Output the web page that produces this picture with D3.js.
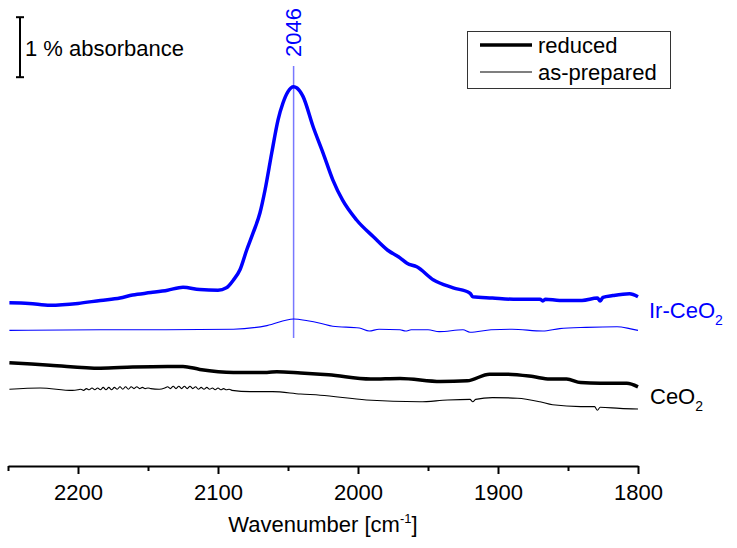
<!DOCTYPE html>
<html>
<head>
<meta charset="utf-8">
<script src="https://cdn.jsdelivr.net/npm/d3@7"></script>
<style>
  body { margin: 0; background: #fff; }
  svg { display: block; font-family: "Liberation Sans", Arial, sans-serif; }
  .axis path, .axis line { stroke: #000; stroke-width: 2; }
  .axis text { font-size: 22px; fill: #000; }
</style>
</head>
<body>
<div id="chart"></div>
<script>
// spectra: [wavenumber cm-1, absorbance %] (offset as plotted)
var irReduced = [
  [2249, 2.72], [2235, 2.71], [2220, 2.68], [2200, 2.71], [2184, 2.76], [2170, 2.80],
  [2161, 2.85], [2148, 2.89], [2136, 2.93], [2125, 2.98], [2113, 2.94], [2100, 2.93],
  [2094, 2.97], [2089, 3.10], [2084.3, 3.27], [2079.5, 3.60], [2075, 3.88], [2070, 4.22],
  [2066.4, 4.60], [2061.6, 5.22], [2057.1, 5.77], [2053.6, 6.05], [2050, 6.24], [2046, 6.32],
  [2043.6, 6.30], [2039.3, 6.16], [2032, 5.65], [2025, 5.22], [2018, 4.77], [2011, 4.43],
  [2001, 4.10], [1989, 3.82], [1979, 3.60], [1970, 3.47], [1965, 3.38], [1958, 3.32],
  [1946, 3.10], [1932, 2.97], [1920, 2.88], [1918, 2.82], [1904, 2.80], [1889, 2.78],
  [1870, 2.78], [1868, 2.75], [1866, 2.78], [1856, 2.76], [1840, 2.76], [1829, 2.80],
  [1827, 2.75], [1825, 2.81], [1818, 2.84], [1806, 2.87], [1800, 2.82]
];
var irPrepared = [
  [2249, 2.26], [2184, 2.27], [2150, 2.27], [2089, 2.28], [2065, 2.34], [2046, 2.45],
  [2036, 2.42], [2027, 2.38], [2018, 2.33], [1999, 2.30], [1992, 2.25], [1985, 2.28],
  [1970, 2.27], [1966, 2.25], [1962, 2.27], [1950, 2.27], [1942, 2.24], [1925, 2.27],
  [1920, 2.23], [1905, 2.27], [1890, 2.28], [1868, 2.25], [1856, 2.29], [1837, 2.31],
  [1815, 2.32], [1806, 2.29], [1800, 2.26]
];
var ceReduced = [
  [2249, 1.72], [2220, 1.68], [2184, 1.63], [2161, 1.65], [2136, 1.66], [2125, 1.66],
  [2113, 1.61], [2089, 1.56], [2065, 1.56], [2058, 1.57], [2041, 1.55], [2027, 1.53],
  [2021, 1.52], [1991, 1.45], [1970, 1.46], [1941, 1.41], [1922, 1.42], [1906, 1.53],
  [1894, 1.53], [1875, 1.49], [1863, 1.45], [1851, 1.45], [1841, 1.39], [1827, 1.38],
  [1808, 1.38], [1800, 1.32]
];
var cePrepared = [
  [2249, 1.28], [2227, 1.30], [2204, 1.26],
  [2200, 1.27], [2198, 1.28], [2196, 1.26], [2194, 1.29], [2192, 1.27], [2190, 1.30],
  [2188, 1.27], [2186, 1.30], [2184, 1.27], [2182, 1.31], [2180, 1.27], [2178, 1.31],
  [2176, 1.27], [2174, 1.31], [2172, 1.28], [2170, 1.32], [2168, 1.28], [2166, 1.32],
  [2164, 1.28], [2162, 1.32], [2160, 1.29], [2158, 1.32], [2156, 1.29], [2154, 1.31],
  [2152, 1.29], [2150, 1.30], [2148, 1.29], [2142, 1.28],
  [2138, 1.30], [2136, 1.32], [2134, 1.29], [2132, 1.33], [2130, 1.29], [2128, 1.33],
  [2126, 1.29], [2124, 1.33], [2122, 1.29], [2120, 1.33], [2118, 1.29], [2116, 1.32],
  [2114, 1.28], [2112, 1.31], [2110, 1.28], [2108, 1.31], [2106, 1.28], [2104, 1.30],
  [2102, 1.27], [2100, 1.30], [2098, 1.27], [2096, 1.29], [2094, 1.27], [2092, 1.28],
  [2090, 1.26], [2077, 1.24], [2061, 1.24], [2041, 1.20], [2027, 1.18],
  [1994, 1.10], [1956, 1.07], [1936, 1.10], [1920, 1.11], [1918, 1.07], [1916, 1.11],
  [1904, 1.14], [1886, 1.13], [1870, 1.07], [1861, 1.02], [1841, 0.99], [1831, 0.99],
  [1829, 0.93], [1827, 0.98], [1813, 0.96], [1800, 0.95]
];

var majorTicks = [2200, 2100, 2000, 1900, 1800],
    minorTicks = [2250, 2150, 2050, 1950, 1850],
    peakWn = 2046;

var width = 737,
    height = 548;

var x = d3.scaleLinear()
    .domain([2250, 1800])
    .range([8, 638]);

var y = d3.scaleLinear()
    .domain([0, 7.5])
    .range([466, 16]);

var svg = d3.select("#chart").append("svg")
    .attr("width", width)
    .attr("height", height);

var line = d3.line()
    .curve(d3.curveMonotoneX)
    .x(function(d) { return x(d[0]); })
    .y(function(d) { return y(d[1]); });

// peak marker
svg.append("line")
    .attr("x1", x(peakWn)).attr("x2", x(peakWn))
    .attr("y1", 66).attr("y2", 338)
    .attr("stroke", "#7878ff")
    .attr("stroke-width", 1.5);

svg.append("text")
    .attr("transform", "translate(" + (x(peakWn) + 7) + ",57) rotate(-90)")
    .attr("font-size", 22)
    .attr("fill", "#0000ff")
    .text(peakWn);

var series = [
  {data: irPrepared, color: "#0000ff", w: 1.1},
  {data: cePrepared, color: "#000", w: 1.1},
  {data: irReduced, color: "#0000ff", w: 3.5},
  {data: ceReduced, color: "#000", w: 3.5}
];

svg.selectAll(".spec")
    .data(series)
  .enter().append("path")
    .attr("class", "spec")
    .attr("fill", "none")
    .attr("stroke", function(d) { return d.color; })
    .attr("stroke-width", function(d) { return d.w; })
    .attr("stroke-linejoin", "round")
    .attr("d", function(d) { return line(d.data); });

// x axis
var xAxis = d3.axisBottom(x)
    .tickValues(majorTicks)
    .tickFormat(d3.format("d"))
    .tickSize(8)
    .tickSizeOuter(0)
    .tickPadding(10);

svg.append("g")
    .attr("class", "axis")
    .attr("transform", "translate(0," + y(0) + ")")
    .call(xAxis);

svg.append("g")
    .attr("class", "axis")
    .attr("transform", "translate(0," + y(0) + ")")
    .call(d3.axisBottom(x).tickValues(minorTicks).tickSize(5).tickSizeOuter(0).tickFormat(""))
    .select(".domain").remove();

svg.selectAll(".axis .tick text").attr("font-family", null);

var xl = svg.append("text")
    .attr("x", 323)
    .attr("y", 532)
    .attr("text-anchor", "middle")
    .attr("font-size", 22);
xl.append("tspan").text("Wavenumber [cm");
xl.append("tspan").attr("font-size", 13).attr("dy", -9).text("-1");
xl.append("tspan").attr("dy", 9).text("]");

// scale bar: 1 % absorbance
var barTop = 7.48, barBottom = barTop - 1;
var bar = svg.append("g").attr("stroke", "#000").attr("stroke-width", 2);
bar.append("line").attr("x1", 20).attr("x2", 20).attr("y1", y(barTop)).attr("y2", y(barBottom));
bar.append("line").attr("x1", 16).attr("x2", 24).attr("y1", y(barTop)).attr("y2", y(barTop));
bar.append("line").attr("x1", 16).attr("x2", 24).attr("y1", y(barBottom)).attr("y2", y(barBottom));

svg.append("text")
    .attr("x", 25)
    .attr("y", 56)
    .attr("font-size", 22)
    .text("1 % absorbance");

// sample labels
var ir = svg.append("text")
    .attr("x", 649).attr("y", 318)
    .attr("font-size", 22)
    .attr("fill", "#0000ff");
ir.append("tspan").text("Ir-CeO");
ir.append("tspan").attr("font-size", 14).attr("dy", 7).text("2");

var ce = svg.append("text")
    .attr("x", 650).attr("y", 404)
    .attr("font-size", 22);
ce.append("tspan").text("CeO");
ce.append("tspan").attr("font-size", 14).attr("dy", 7).text("2");

// legend
var legend = svg.append("g");
legend.append("rect")
    .attr("x", 467.5).attr("y", 31.5)
    .attr("width", 203).attr("height", 57)
    .attr("fill", "#fff")
    .attr("stroke", "#333")
    .attr("stroke-width", 1);

var legendItems = [
  {label: "reduced", w: 3.5, y: 45},
  {label: "as-prepared", w: 1.1, y: 72}
];

var li = legend.selectAll(".li")
    .data(legendItems)
  .enter().append("g")
    .attr("class", "li");

li.append("line")
    .attr("x1", 480).attr("x2", 532)
    .attr("y1", function(d) { return d.y; })
    .attr("y2", function(d) { return d.y; })
    .attr("stroke", "#000")
    .attr("stroke-width", function(d) { return d.w; });

li.append("text")
    .attr("x", 538)
    .attr("y", function(d) { return d.y + 8; })
    .attr("font-size", 22)
    .text(function(d) { return d.label; });
</script>
</body>
</html>
